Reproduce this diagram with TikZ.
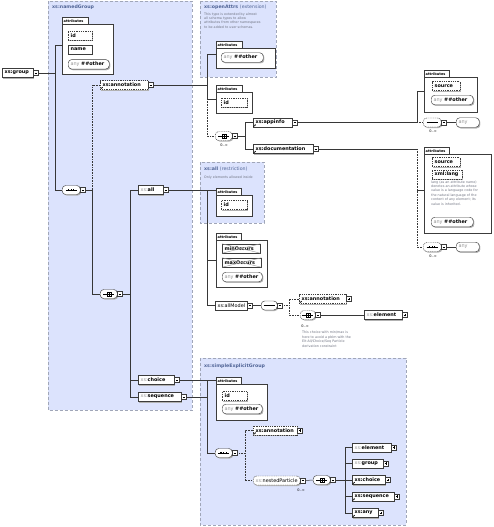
\documentclass[tikz,border=0pt]{standalone}
\usepackage{fontspec}
\setmainfont{DejaVu Sans}
\usetikzlibrary{shadows,fit,arrows.meta}
\pgfdeclarelayer{grpl}
\pgfdeclarelayer{wirel}
\pgfsetlayers{grpl,wirel,main}
\definecolor{grpfill}{RGB}{220,227,253}
\definecolor{grpline}{RGB}{160,166,184}
\definecolor{grptitle}{RGB}{80,100,150}
\definecolor{boxline}{RGB}{60,60,60}
\definecolor{pfx}{RGB}{150,150,150}
\definecolor{desc}{RGB}{112,116,130}
\definecolor{conn}{RGB}{55,55,55}
\newcommand\pfx{{\color{pfx}\mdseries xs:}}
\newcommand\anyo{{\color{pfx}\mdseries any }\#\#other}
\tikzset{
  shd/.style={general shadow={fill=black!30, shadow xshift=1pt, shadow yshift=-1pt}},
  el/.style={draw=boxline, fill=white, line width=0.45pt, minimum height=9pt, inner sep=0pt, anchor=west, shd},
  opt/.style={dash pattern=on 1pt off 0.8pt},
  eltext/.style={anchor=west, inner sep=0pt, font=\fontsize{4.9}{5}\selectfont\bfseries},
  btn/.style={draw=boxline, fill=white, line width=0.4pt, minimum width=4.6pt, minimum height=5pt, inner sep=0pt, anchor=west},
  compo/.style={draw=boxline, fill=white, line width=0.45pt, rounded corners=3.5pt, minimum width=17pt, minimum height=9pt, inner sep=0pt, anchor=west, shd},
  wire/.style={draw=conn, line width=0.5pt},
  dwire/.style={draw=conn, line width=0.5pt, dash pattern=on 0.7pt off 0.9pt},
  grp/.style={draw=grpline, fill=grpfill, line width=0.6pt, dash pattern=on 3pt off 2pt},
  grptitle/.style={anchor=west, inner sep=0pt, font=\fontsize{4.7}{5}\selectfont\bfseries, text=grptitle},
  desc/.style={anchor=north west, inner sep=0pt, align=left, font=\fontsize{3.3}{4.4}\selectfont, text=desc},
  occ/.style={inner sep=0pt, font=\fontsize{3.5}{4}\selectfont},
  tab/.style={draw=boxline, fill=white, line width=0.45pt},
  abox/.style={draw=boxline, fill=white, line width=0.45pt, shd},
  tabtext/.style={anchor=west, inner sep=0pt, font=\fontsize{3.5}{4}\selectfont\bfseries},
  pill/.style={el, rounded corners=3.5pt, minimum height=9.5pt},
}
\newcommand\elem[6][]{\node[el,#1,minimum width=#5pt] (#2) at (#3,#4) {};
  \node[eltext] at ([xshift=2.4pt]#2.west) {#6};}
\newcommand\minus[1]{\node[btn] (#1-s) at (#1.east) {};
  \draw[line width=0.45pt] ([xshift=-1.4pt]#1-s.center) -- ([xshift=1.4pt]#1-s.center);}
\newcommand\plus[1]{\minus{#1}\draw[line width=0.45pt] ([yshift=-1.4pt]#1-s.center) -- ([yshift=1.4pt]#1-s.center);}
\newcommand\refm[1]{\draw[line width=0.4pt,-{Stealth[length=1.3pt,width=1.3pt]}] ([shift={(0.6pt,0.6pt)}]#1.south west) -- ++(2.2pt,2.2pt);}
\newcommand\attrs[6]{%
  \draw[abox] (#2,#3+7.5) rectangle (#4,#5);
  \draw[tab] (#2,#3) rectangle (#2+#6,#3+7.5);
  \node[tabtext] at (#2+1.5,#3+3.9) {attributes};
  \node[inner sep=0pt, fit={(#2,#3) (#4,#5)}] (#1) {};}
\newcommand\xattr[5]{\elem{#1}{#2}{#3}{#4}{#5}%
  \draw[pfx,line width=0.4pt] (#1.south west) -- (#1.north east) (#1.north west) -- (#1.south east);}
\newcommand\seqc[4][]{%
  \node[compo,minimum width=18pt,#1] (#2) at (#3,#4) {};
  \draw[line width=0.45pt] ([xshift=-5.5pt]#2.center) -- ([xshift=5.5pt]#2.center);
  \foreach \d in {-2.6,0,2.6}{\fill ([xshift=\d pt]#2.center) ++(-0.65pt,-0.65pt) rectangle ++(1.3pt,1.3pt);}}
\newcommand\choc[4][]{%
  \node[compo,#1] (#2) at (#3,#4) {};
  \draw[line width=0.45pt] ([xshift=-5.5pt]#2.center) -- ([xshift=-2pt]#2.center)
     ([xshift=2pt]#2.center) -- ([xshift=5.5pt]#2.center);
  \draw[line width=0.4pt] ([shift={(-2pt,-2.3pt)}]#2.center) rectangle ([shift={(2pt,2.3pt)}]#2.center);
  \draw[line width=0.4pt] ([xshift=-2pt]#2.center) -- ([xshift=2pt]#2.center)
     ([yshift=-2.3pt]#2.center) -- ([yshift=2.3pt]#2.center);}
\begin{document}
\begin{tikzpicture}[x=1pt,y=-1pt]
\useasboundingbox (0,0) rectangle (494,527);
\begin{pgfonlayer}{grpl}
\fill[white] (0,0) rectangle (494,527);
\draw[grp] (48,1.5) rectangle (192,410);
\draw[grp] (200,1.5) rectangle (276,77);
\draw[grp] (200,162) rectangle (264,223);
\draw[grp] (200,358) rectangle (406,525);
\end{pgfonlayer}
% titles
\node[grptitle] (tNG) at (52,7) {xs:namedGroup};
\node[grptitle] (tOA) at (204,7) {xs:openAttrs \mdseries(extension)};
\node[desc] (dOA) at (204,12.4) {This type is extended by almost\\all schema types to allow\\attributes from other namespaces\\to be added to user schemas.};
\node[grptitle] (tAR) at (204,169.3) {xs:all \mdseries(restriction)};
\node[desc] (dAR) at (204,175.4) {Only elements allowed inside};
\node[grptitle] (tSE) at (204,366) {xs:simpleExplicitGroup};
% namedGroup
\elem{grp}{2}{73}{31}{xs:group}\minus{grp}
\attrs{A1}{62}{17}{113}{74}{26}
\elem[opt]{a1id}{68}{35.7}{24}{id}
\elem{a1name}{68}{49.5}{24}{name}
\elem[pill]{a1any}{68}{64.3}{41}{\anyo}
\seqc{sq1}{62}{190}\minus{sq1}
\elem[opt]{ann1}{100}{85}{48}{xs:annotation}\minus{ann1}\refm{ann1}
\choc{ch1}{100}{294}\minus{ch1}
\elem{all}{138}{190}{25}{\pfx all}\minus{all}
\elem{chg}{138}{380}{36}{\pfx choice}\minus{chg}
\elem{sqg}{138}{397}{43}{\pfx sequence}\minus{sqg}
% openAttrs and annotation
\attrs{A2}{216}{41}{275}{68}{26}
\elem[pill]{a2any}{221}{57.5}{42}{\anyo}
\attrs{A3}{216}{85}{252}{113}{26}
\elem[opt]{a3id}{221}{102.5}{26}{id}
\choc[opt]{ch2}{215}{136}\minus{ch2}
\node[occ] (o2) at (224,145.5) {0..∞};
\elem{appinfo}{253}{122.5}{39}{xs:appinfo}\minus{appinfo}\refm{appinfo}
\elem{doc}{253}{149}{60}{xs:documentation}\minus{doc}\refm{doc}
\attrs{A4}{424}{70}{477}{112}{25}
\elem[opt]{a4src}{432}{86}{28}{source}
\elem[pill]{a4any}{431}{100}{42}{\anyo}
\seqc[opt]{sq3}{423}{122.5}\minus{sq3}
\node[occ] (o3) at (433,131.5) {0..∞};
\elem[pill]{any3}{456}{122.5}{23}{\color{pfx}\mdseries any}
\attrs{A5}{424}{147}{491}{233}{25}
\elem[opt]{a5src}{432}{162}{28}{source}
\elem[opt]{a5lang}{432}{174.5}{30}{xml:lang}
\node[desc] (d5) at (431,180.4) {lang (as an attribute name)\\denotes an attribute whose\\value is a language code for\\the natural language of the\\content of any element; its\\value is inherited.};
\elem[pill]{a5any}{431}{222}{42}{\anyo}
\seqc[opt]{sq4}{423}{247}\minus{sq4}
\node[occ] (o4) at (433,256) {0..∞};
\elem[pill]{any4}{456}{247}{23}{\color{pfx}\mdseries any}
% xs:all
\attrs{A6}{216}{188}{252}{216}{25}
\elem[opt]{a6id}{221}{205}{26}{id}
\attrs{A7}{216}{233}{267}{287}{25}
\xattr{a7min}{222}{248.5}{38}{minOccurs}
\xattr{a7max}{222}{262.5}{39}{maxOccurs}
\elem[pill]{a7any}{222}{277}{40}{\anyo}
\elem{allm}{215}{305.5}{32}{\mdseries xs:allModel}\minus{allm}
\seqc[minimum width=16pt]{sq5}{261}{305.5}\minus{sq5}
\elem[opt]{ann2}{299}{299}{47}{xs:annotation}\plus{ann2}\refm{ann2}
\choc[opt,minimum width=15pt]{ch3}{300}{315}\minus{ch3}
\node[occ] (o5) at (305,326) {0..∞};
\node[desc,font=\fontsize{3.3}{4.8}\selectfont] (d6) at (302,330.5) {This choice with min/max is\\here to avoid a pblm with the\\Elt:All/Choice/Seq Particle\\derivation constraint};
\elem{el1}{364}{315}{38}{\pfx element}\plus{el1}
% simpleExplicitGroup
\attrs{A8}{216}{377}{267}{420}{25}
\elem[opt]{a8id}{222}{396}{25}{id}
\elem[pill]{a8any}{222}{409}{40}{\anyo}
\seqc[minimum width=17pt]{sq6}{215}{453}\minus{sq6}
\elem[opt]{ann3}{253}{430.5}{44}{xs:annotation}\plus{ann3}\refm{ann3}
\elem[opt,rounded corners=3.5pt]{np}{253}{480.5}{47}{\pfx\mdseries nestedParticle}\minus{np}
\node[occ] (o6) at (301,490) {0..∞};
\choc{ch4}{313}{480}\minus{ch4}
\elem{el2}{352}{447.5}{39}{\pfx element}\plus{el2}
\elem{gr2}{352}{463.5}{31}{\pfx group}\plus{gr2}
\elem{ch5}{352}{480}{33}{xs:choice}\plus{ch5}\refm{ch5}
\elem{sq7}{352}{496.5}{42}{xs:sequence}\plus{sq7}\refm{sq7}
\elem{any5}{352}{513}{26}{xs:any}\plus{any5}\refm{any5}
% connectors
\begin{pgfonlayer}{wirel}
\coordinate (b1) at (55,0);
\draw[wire] (grp-s.east) -- (b1 |- grp-s.east);
\draw[wire] (A1.west) -- (b1 |- A1.west) -- (b1 |- sq1.west) -- (sq1.west);
\coordinate (b2) at (92,0);
\draw[wire] (sq1-s.east) -- (b2 |- sq1-s.east) -- (b2 |- ch1.west) -- (ch1.west);
\draw[dwire] (b2 |- sq1-s.east) -- (b2 |- ann1.west) -- (ann1.west);
\coordinate (b3) at (207,0);
\draw[wire] (ann1-s.east) -- (b3 |- ann1-s.east);
\draw[wire] (A2.west) -- (b3 |- A2.west) -- (b3 |- A3.west) -- (A3.west);
\draw[dwire] (b3 |- A3.west) -- (b3 |- ch2.west) -- (ch2.west);
\coordinate (b4) at (245,0);
\draw[wire] (ch2-s.east) -- (b4 |- ch2-s.east);
\draw[wire] (appinfo.west) -- (b4 |- appinfo.west) -- (b4 |- doc.west) -- (doc.west);
\coordinate (b5) at (417,0);
\draw[wire] (appinfo-s.east) -- (b5 |- appinfo-s.east) -- (b5 |- A4.west) -- (A4.west);
\draw[dwire] (b5 |- appinfo-s.east) -- (sq3.west);
\draw[wire] (sq3-s.east) -- (any3.west);
\draw[wire] (doc-s.east) -- (b5 |- doc-s.east);
\draw[dwire] (b5 |- doc-s.east) -- (b5 |- sq4.west) -- (sq4.west);
\draw[wire] (b5 |- A5.west) -- (A5.west);
\draw[wire] (sq4-s.east) -- (any4.west);
\coordinate (b6) at (130,0);
\draw[wire] (ch1-s.east) -- (b6 |- ch1-s.east);
\draw[wire] (all.west) -- (b6 |- all.west) -- (b6 |- sqg.west) -- (sqg.west);
\draw[wire] (b6 |- chg.west) -- (chg.west);
\coordinate (b7) at (207,0);
\draw[wire] (all-s.east) -- (A6.west |- all-s.east);
\draw[wire] (b7 |- all-s.east) -- (b7 |- allm.west) -- (allm.west);
\draw[wire] (b7 |- A7.west) -- (A7.west);
\draw[wire] (allm-s.east) -- (sq5.west);
\coordinate (b8) at (289,0);
\draw[dwire] (sq5-s.east) -- (b8 |- sq5-s.east);
\draw[dwire] (ann2.west) -- (b8 |- ann2.west) -- (b8 |- ch3.west) -- (ch3.west);
\draw[wire] (ch3-s.east) -- (el1.west);
\coordinate (b9) at (207,0);
\draw[wire] (chg-s.east) -- (A8.west |- chg-s.east);
\draw[wire] (b9 |- chg-s.east) -- (b9 |- sq6.west) -- (sq6.west);
\draw[wire] (sqg-s.east) -- (b9 |- sqg-s.east);
\coordinate (b10) at (245,0);
\draw[dwire] (sq6-s.east) -- (b10 |- sq6-s.east);
\draw[dwire] (ann3.west) -- (b10 |- ann3.west) -- (b10 |- np.west) -- (np.west);
\draw[wire] (np-s.east) -- (ch4.west);
\coordinate (b11) at (345,0);
\draw[wire] (ch4-s.east) -- (b11 |- ch4-s.east);
\draw[wire] (el2.west) -- (b11 |- el2.west) -- (b11 |- any5.west) -- (any5.west);
\draw[wire] (b11 |- gr2.west) -- (gr2.west);
\draw[wire] (b11 |- ch5.west) -- (ch5.west);
\draw[wire] (b11 |- sq7.west) -- (sq7.west);
\end{pgfonlayer}
\end{tikzpicture}
\end{document}
